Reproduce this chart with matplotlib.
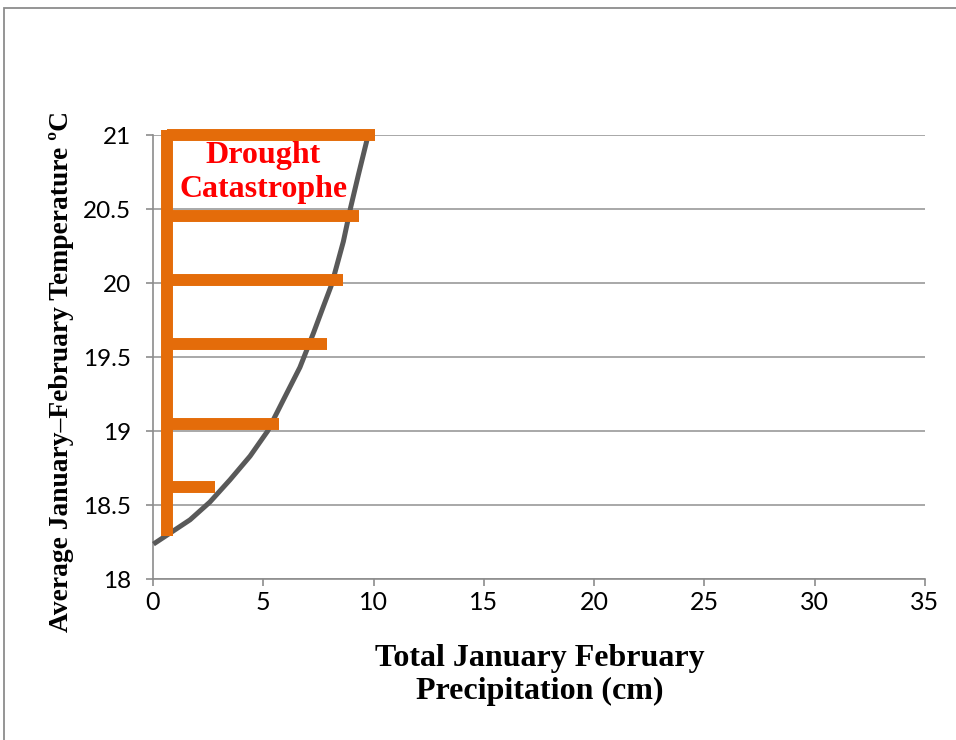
import matplotlib
matplotlib.use("Agg")
import matplotlib.pyplot as plt
from matplotlib.patches import Rectangle

# ---- data ----
curve_precip = [0.02, 0.77, 1.68, 2.58, 3.49, 4.40, 5.2, 5.91, 6.66, 7.27,
                7.72, 8.10, 8.63, 8.96, 9.31, 9.69, 9.76]
curve_temp = [18.236, 18.31, 18.40, 18.52, 18.67, 18.83, 19.0, 19.21, 19.43,
              19.66, 19.84, 19.99, 20.28, 20.51, 20.73, 20.96, 21.0]

bar_temps = [21.0, 20.45, 20.02, 19.59, 19.05, 18.62]
bar_precip = [10.06, 9.34, 8.6, 7.88, 5.71, 2.8]
spine_precip = 0.63
spine_temp_range = [18.29, 21.034]

x_ticks = [0, 5, 10, 15, 20, 25, 30, 35]
x_tick_labels = ["0", "5", "10", "15", "20", "25", "30", "35"]
y_ticks = [18, 18.5, 19, 19.5, 20, 20.5, 21]
y_tick_labels = ["18", "18.5", "19", "19.5", "20", "20.5", "21"]

x_label = "Total January February\nPrecipitation (cm)"
y_label = "Average January\u2013February Temperature \u00baC"
annotation = "Drought\nCatastrophe"

# ---- figure ----
fig = plt.figure(figsize=(9.56, 7.4), dpi=100)
ax = fig.add_axes([153/956, 1-579/740, (925-153)/956, (579-135)/740])

orange = "#E46C0A"
grid_c = "#9a9a9a"

ax.set_xlim(0, 35)
ax.set_ylim(18, 21)
ax.set_xticks(x_ticks)
ax.set_xticklabels(x_tick_labels)
ax.set_yticks(y_ticks)
ax.set_yticklabels(y_tick_labels)

ax.yaxis.grid(True, color=grid_c, linewidth=1.2)
ax.xaxis.grid(False)
ax.set_axisbelow(True)

for s in ["top", "right"]:
    ax.spines[s].set_visible(False)
for s in ["left", "bottom"]:
    ax.spines[s].set_color("#8c8c8c")
    ax.spines[s].set_linewidth(1.2)

ax.tick_params(axis="both", direction="out", length=5, width=1.2, color="#8c8c8c")
ax.tick_params(axis="y", pad=11)
ax.tick_params(axis="x", pad=4)
for lab in ax.get_yticklabels():
    lab.set_fontfamily(["Lato", "DejaVu Sans"])
    lab.set_fontsize(17.5)
for lab in ax.get_xticklabels():
    lab.set_fontfamily(["Liberation Sans Narrow", "Lato", "DejaVu Sans"])
    lab.set_fontsize(18)

# gray curve
ax.plot(curve_precip, curve_temp, color="#595959", linewidth=3.6,
        solid_capstyle="butt", solid_joinstyle="round", zorder=3, clip_on=False)

# orange bars
ax.plot([spine_precip, spine_precip], spine_temp_range, color=orange,
        linewidth=8.6, solid_capstyle="butt", zorder=4, clip_on=False)
for t, p in zip(bar_temps, bar_precip):
    ax.plot([spine_precip, p], [t, t], color=orange, linewidth=8.6,
            solid_capstyle="butt", zorder=4, clip_on=False)

ax.text(4.99, 20.745, annotation, color="#FF0000", fontsize=23,
        fontweight="bold", family=["Liberation Serif", "DejaVu Serif"],
        ha="center", va="center", linespacing=1.22, zorder=5)

ax.set_xlabel(x_label, fontsize=23, fontweight="bold",
              family=["Liberation Serif", "DejaVu Serif"], va="center",
              linespacing=1.18)
ax.xaxis.set_label_coords((540-153)/772, (579-675)/444)
ax.set_ylabel(y_label, fontsize=19.8, fontweight="bold",
              family=["Liberation Serif", "DejaVu Serif"], va="center")
ax.yaxis.set_label_coords((62-153)/772, (579-371)/444)

# outer frame (partially visible: top and left)
fig.patches.append(Rectangle((4/956, -0.1), 1.2, 1 - 8/740 + 0.1,
                             transform=fig.transFigure, fill=False,
                             edgecolor="#8c8c8c", linewidth=1.3))

fig.savefig("out.png", dpi=100)
